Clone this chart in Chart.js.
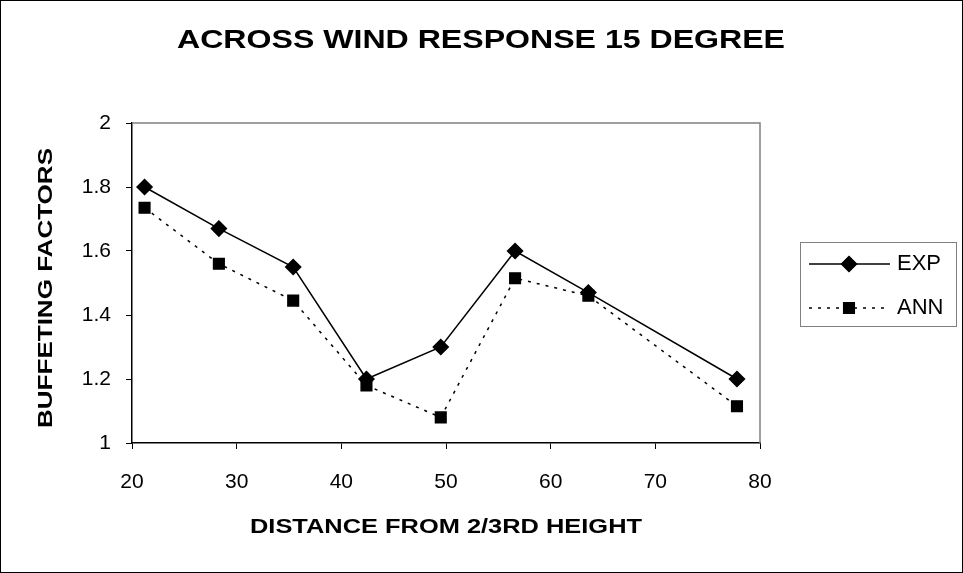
<!DOCTYPE html>
<html>
<head>
<meta charset="utf-8">
<title>Across wind response 15 degree</title>
<script src="https://cdn.jsdelivr.net/npm/chart.js@4.4.1/dist/chart.umd.min.js"></script>
<style>
  html, body { margin: 0; padding: 0; background: #fff; }
  #wrap { width: 963px; height: 573px; position: relative; }
</style>
</head>
<body>
<div id="wrap"><canvas id="chart" width="963" height="573"></canvas></div>
<script>
const FONT = '"Liberation Sans", Arial, Helvetica, sans-serif';

// distance from 2/3rd height
const distances = [21.2, 28.3, 35.4, 42.4, 49.5, 56.6, 63.6, 77.8];
// buffeting factors
const expValues = [1.80, 1.67, 1.55, 1.20, 1.30, 1.60, 1.47, 1.20];
const annValues = [1.735, 1.56, 1.445, 1.18, 1.08, 1.515, 1.46, 1.115];

const seriesNames = ['EXP', 'ANN'];
const xTicks = [20, 30, 40, 50, 60, 70, 80];
const yTicks = [1, 1.2, 1.4, 1.6, 1.8, 2];

const chartTitle = 'ACROSS WIND RESPONSE 15 DEGREE';
const xTitle = 'DISTANCE FROM 2/3RD HEIGHT';
const yTitle = 'BUFFETING FACTORS';

function toPoints(xs, ys) {
  return xs.map((x, i) => ({ x: x, y: ys[i] }));
}

// the original's bold titles are wider than the font, so stretch them to fit
function drawFitted(c, text, cx, cy, width, font, angle) {
  c.save();
  c.font = font;
  c.textAlign = 'center';
  c.textBaseline = 'middle';
  const w = c.measureText(text).width;
  c.translate(cx, cy);
  if (angle) c.rotate(angle);
  c.scale(width / w, 1);
  c.fillText(text, 0, 0);
  c.restore();
}

// frame round the whole picture, gray box round the plot, titles
const framePlugin = {
  id: 'frame',
  beforeDraw(chart) {
    const c = chart.ctx;
    c.save();
    c.fillStyle = '#fff';
    c.fillRect(0, 0, chart.width, chart.height);
    c.strokeStyle = '#000';
    c.lineWidth = 1;
    c.strokeRect(0.5, 0.5, chart.width - 1, chart.height - 1);
    c.restore();
  },
  beforeDatasetsDraw(chart) {
    const a = chart.chartArea;
    const c = chart.ctx;
    c.save();
    c.strokeStyle = '#808080';
    c.lineWidth = 1.5;
    c.beginPath();
    c.moveTo(a.left, a.top);
    c.lineTo(a.right, a.top);
    c.lineTo(a.right, a.bottom);
    c.stroke();
    c.restore();
  },
  afterDraw(chart) {
    const a = chart.chartArea;
    const c = chart.ctx;
    c.fillStyle = '#000';
    drawFitted(c, chartTitle, 481, 41, 608, 'bold 26px ' + FONT, 0);
    drawFitted(c, xTitle, (a.left + a.right) / 2, 527, 392, 'bold 21px ' + FONT, 0);
    drawFitted(c, yTitle, 46, 288, 280, 'bold 21px ' + FONT, -Math.PI / 2);
  }
};

// boxed legend at the right, like the original
const boxLegend = {
  id: 'boxLegend',
  afterDraw(chart) {
    const c = chart.ctx;
    const bx = 800, by = 242, bw = 156, bh = 84;
    c.save();
    c.strokeStyle = '#808080';
    c.lineWidth = 1;
    c.strokeRect(bx + 0.5, by + 0.5, bw, bh);
    chart.data.datasets.forEach((ds, i) => {
      const y = by + 22 + i * 44;
      c.strokeStyle = ds.borderColor;
      c.lineWidth = ds.borderWidth;
      c.setLineDash(ds.borderDash || []);
      c.beginPath();
      c.moveTo(bx + 9, y);
      c.lineTo(bx + 90, y);
      c.stroke();
      c.setLineDash([]);
      Chart.helpers.drawPoint(c, {
        pointStyle: ds.pointStyle,
        radius: ds.pointRadius,
        borderWidth: 1
      }, bx + 49, y);
      c.fillStyle = ds.pointBackgroundColor;
      c.fill();
      c.fillStyle = '#000';
      c.font = '22px ' + FONT;
      c.textBaseline = 'middle';
      c.textAlign = 'left';
      c.fillText(ds.label, bx + 97, y);
    });
    c.restore();
  }
};

new Chart(document.getElementById('chart'), {
  type: 'line',
  data: {
    datasets: [
      {
        label: seriesNames[0],
        data: toPoints(distances, expValues),
        borderColor: '#000',
        backgroundColor: '#000',
        borderWidth: 1.5,
        pointStyle: 'rectRot',
        pointRadius: 7.5,
        pointBackgroundColor: '#000',
        pointBorderColor: '#000',
        tension: 0
      },
      {
        label: seriesNames[1],
        data: toPoints(distances, annValues),
        borderColor: '#000',
        backgroundColor: '#000',
        borderWidth: 1.5,
        borderDash: [3, 6],
        pointStyle: 'rect',
        pointRadius: 7.5,
        pointBackgroundColor: '#000',
        pointBorderColor: '#000',
        tension: 0
      }
    ]
  },
  options: {
    responsive: false,
    animation: false,
    events: [],
    layout: { padding: { left: 10, right: 203, top: 123, bottom: 0 } },
    plugins: {
      legend: { display: false },
      tooltip: { enabled: false },
      title: { display: false }
    },
    scales: {
      x: {
        type: 'linear',
        min: 20,
        max: 80,
        afterBuildTicks(scale) { scale.ticks = xTicks.map(v => ({ value: v })); },
        afterFit(scale) { scale.height = 130; },
        grid: { display: true, drawOnChartArea: false, drawTicks: true, tickLength: 6, color: '#000' },
        border: { display: true, color: '#000', width: 1.5 },
        ticks: { color: '#000', font: { family: FONT, size: 21 }, padding: 21, maxRotation: 0 }
      },
      y: {
        type: 'linear',
        min: 1,
        max: 2,
        afterBuildTicks(scale) { scale.ticks = yTicks.map(v => ({ value: v })); },
        afterFit(scale) { scale.width = 122; },
        grid: { display: true, drawOnChartArea: false, drawTicks: true, tickLength: 6, color: '#000' },
        border: { display: true, color: '#000', width: 1.5 },
        ticks: {
          color: '#000',
          font: { family: FONT, size: 21 },
          padding: 15,
          callback: (v) => String(Number(v.toFixed(1)))
        }
      }
    }
  },
  plugins: [framePlugin, boxLegend]
});
</script>
</body>
</html>
